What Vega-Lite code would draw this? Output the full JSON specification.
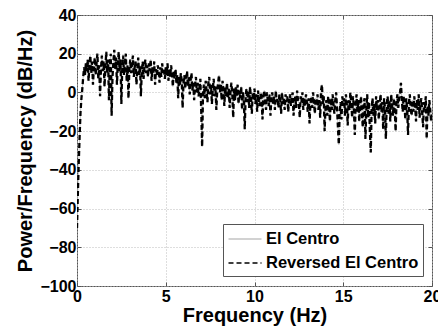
{
  "$schema": "https://vega.github.io/schema/vega-lite/v6.json",
  "autosize": {"type": "none"},
  "width": 355,
  "height": 271,
  "padding": {"left": 77, "top": 15, "right": 6, "bottom": 42},
  "background": "white",
  "config": {
    "view": {"stroke": "#555555", "strokeWidth": 1},
    "font": "Liberation Sans",
    "axis": {
      "labelFont": "Liberation Sans",
      "labelFontWeight": "bold",
      "labelFontSize": 16,
      "labelColor": "#000000",
      "titleFont": "Liberation Sans",
      "titleFontWeight": "bold",
      "titleFontSize": 20,
      "titleColor": "#000000",
      "domain": false,
      "tickColor": "#555555",
      "tickSize": -4,
      "gridColor": "#bdbdbd",
      "gridDash": [1, 2],
      "gridWidth": 1,
      "labelOverlap": false,
      "labelFlush": false
    },
    "legend": {
      "labelFont": "Liberation Sans",
      "labelFontWeight": "bold",
      "labelFontSize": 16.5,
      "labelColor": "#000000",
      "labelLimit": 300
    }
  },
  "resolve": {"axis": {"x": "independent", "y": "independent"}},
  "data": {
    "values": [
      {"f":0.00,"p":-70},{"f":0.05,"p":-52},{"f":0.10,"p":-36},{"f":0.15,"p":-22},{"f":0.20,"p":-10},{"f":0.25,"p":-3},{"f":0.30,"p":2},{"f":0.35,"p":8},{"f":0.40,"p":13},{"f":0.45,"p":9},
      {"f":0.50,"p":15},{"f":0.55,"p":11},{"f":0.60,"p":17},{"f":0.65,"p":6},{"f":0.70,"p":14},{"f":0.75,"p":19},{"f":0.80,"p":10},{"f":0.85,"p":16},{"f":0.90,"p":4},{"f":0.95,"p":13},
      {"f":1.00,"p":18},{"f":1.05,"p":9},{"f":1.10,"p":15},{"f":1.15,"p":20},{"f":1.20,"p":7},{"f":1.25,"p":14},{"f":1.30,"p":-2},{"f":1.35,"p":12},{"f":1.40,"p":19},{"f":1.45,"p":11},
      {"f":1.50,"p":16},{"f":1.55,"p":3},{"f":1.60,"p":13},{"f":1.65,"p":21},{"f":1.70,"p":10},{"f":1.75,"p":17},{"f":1.80,"p":-4},{"f":1.85,"p":14},{"f":1.90,"p":20},{"f":1.95,"p":-12},
      {"f":2.00,"p":8},{"f":2.05,"p":16},{"f":2.10,"p":22},{"f":2.15,"p":12},{"f":2.20,"p":18},{"f":2.25,"p":4},{"f":2.30,"p":15},{"f":2.35,"p":21},{"f":2.40,"p":11},{"f":2.45,"p":17},
      {"f":2.50,"p":-6},{"f":2.55,"p":13},{"f":2.60,"p":19},{"f":2.65,"p":9},{"f":2.70,"p":15},{"f":2.75,"p":20},{"f":2.80,"p":6},{"f":2.85,"p":14},{"f":2.90,"p":-3},{"f":2.95,"p":12},
      {"f":3.00,"p":17},{"f":3.05,"p":10},{"f":3.10,"p":15},{"f":3.15,"p":19},{"f":3.20,"p":8},{"f":3.25,"p":13},{"f":3.30,"p":16},{"f":3.35,"p":4},{"f":3.40,"p":12},{"f":3.45,"p":18},
      {"f":3.50,"p":9},{"f":3.55,"p":14},{"f":3.60,"p":-2},{"f":3.65,"p":11},{"f":3.70,"p":16},{"f":3.75,"p":7},{"f":3.80,"p":13},{"f":3.85,"p":17},{"f":3.90,"p":10},{"f":3.95,"p":14},
      {"f":4.00,"p":8},{"f":4.05,"p":15},{"f":4.10,"p":11},{"f":4.15,"p":17},{"f":4.20,"p":6},{"f":4.25,"p":13},{"f":4.30,"p":10},{"f":4.35,"p":16},{"f":4.40,"p":4},{"f":4.45,"p":12},
      {"f":4.50,"p":9},{"f":4.55,"p":14},{"f":4.60,"p":11},{"f":4.65,"p":5},{"f":4.70,"p":13},{"f":4.75,"p":8},{"f":4.80,"p":15},{"f":4.85,"p":10},{"f":4.90,"p":12},{"f":4.95,"p":7},
      {"f":5.00,"p":13},{"f":5.05,"p":9},{"f":5.10,"p":15},{"f":5.15,"p":6},{"f":5.20,"p":12},{"f":5.25,"p":8},{"f":5.30,"p":14},{"f":5.35,"p":10},{"f":5.40,"p":3},{"f":5.45,"p":11},
      {"f":5.50,"p":7},{"f":5.55,"p":12},{"f":5.60,"p":5},{"f":5.65,"p":9},{"f":5.70,"p":-3},{"f":5.75,"p":8},{"f":5.80,"p":4},{"f":5.85,"p":10},{"f":5.90,"p":6},{"f":5.95,"p":-8},
      {"f":6.00,"p":5},{"f":6.05,"p":9},{"f":6.10,"p":2},{"f":6.15,"p":7},{"f":6.20,"p":11},{"f":6.25,"p":3},{"f":6.30,"p":8},{"f":6.35,"p":-1},{"f":6.40,"p":6},{"f":6.45,"p":10},
      {"f":6.50,"p":1},{"f":6.55,"p":5},{"f":6.60,"p":-4},{"f":6.65,"p":4},{"f":6.70,"p":8},{"f":6.75,"p":0},{"f":6.80,"p":5},{"f":6.85,"p":-2},{"f":6.90,"p":3},{"f":6.95,"p":7},
      {"f":7.00,"p":-10},{"f":7.05,"p":-28},{"f":7.10,"p":0},{"f":7.15,"p":4},{"f":7.20,"p":-3},{"f":7.25,"p":6},{"f":7.30,"p":1},{"f":7.35,"p":-5},{"f":7.40,"p":5},{"f":7.45,"p":8},
      {"f":7.50,"p":-1},{"f":7.55,"p":4},{"f":7.60,"p":-6},{"f":7.65,"p":2},{"f":7.70,"p":7},{"f":7.75,"p":-2},{"f":7.80,"p":3},{"f":7.85,"p":-9},{"f":7.90,"p":1},{"f":7.95,"p":5},
      {"f":8.00,"p":9},{"f":8.05,"p":0},{"f":8.10,"p":4},{"f":8.15,"p":-4},{"f":8.20,"p":6},{"f":8.25,"p":1},{"f":8.30,"p":-7},{"f":8.35,"p":3},{"f":8.40,"p":-2},{"f":8.45,"p":5},
      {"f":8.50,"p":-3},{"f":8.55,"p":2},{"f":8.60,"p":-8},{"f":8.65,"p":1},{"f":8.70,"p":5},{"f":8.75,"p":-1},{"f":8.80,"p":-13},{"f":8.85,"p":2},{"f":8.90,"p":-4},{"f":8.95,"p":3},
      {"f":9.00,"p":-2},{"f":9.05,"p":4},{"f":9.10,"p":-6},{"f":9.15,"p":1},{"f":9.20,"p":-3},{"f":9.25,"p":3},{"f":9.30,"p":-9},{"f":9.35,"p":0},{"f":9.40,"p":-4},{"f":9.45,"p":-19},
      {"f":9.50,"p":-2},{"f":9.55,"p":2},{"f":9.60,"p":-5},{"f":9.65,"p":1},{"f":9.70,"p":-8},{"f":9.75,"p":3},{"f":9.80,"p":-3},{"f":9.85,"p":-11},{"f":9.90,"p":0},{"f":9.95,"p":-4},
      {"f":10.00,"p":2},{"f":10.05,"p":-6},{"f":10.10,"p":-1},{"f":10.15,"p":-10},{"f":10.20,"p":1},{"f":10.25,"p":-4},{"f":10.30,"p":-7},{"f":10.35,"p":0},{"f":10.40,"p":-3},{"f":10.45,"p":-14},
      {"f":10.50,"p":-2},{"f":10.55,"p":1},{"f":10.60,"p":-5},{"f":10.65,"p":-9},{"f":10.70,"p":0},{"f":10.75,"p":-4},{"f":10.80,"p":-7},{"f":10.85,"p":-1},{"f":10.90,"p":-12},{"f":10.95,"p":-3},
      {"f":11.00,"p":0},{"f":11.05,"p":-6},{"f":11.10,"p":-2},{"f":11.15,"p":-9},{"f":11.20,"p":1},{"f":11.25,"p":-5},{"f":11.30,"p":-3},{"f":11.35,"p":-8},{"f":11.40,"p":-1},{"f":11.45,"p":-4},
      {"f":11.50,"p":-11},{"f":11.55,"p":0},{"f":11.60,"p":-6},{"f":11.65,"p":-3},{"f":11.70,"p":-9},{"f":11.75,"p":-1},{"f":11.80,"p":-5},{"f":11.85,"p":-2},{"f":11.90,"p":-10},{"f":11.95,"p":-4},
      {"f":12.00,"p":-1},{"f":12.05,"p":-7},{"f":12.10,"p":-3},{"f":12.15,"p":0},{"f":12.20,"p":-12},{"f":12.25,"p":-5},{"f":12.30,"p":-2},{"f":12.35,"p":-8},{"f":12.40,"p":1},{"f":12.45,"p":-4},
      {"f":12.50,"p":-6},{"f":12.55,"p":-13},{"f":12.60,"p":-2},{"f":12.65,"p":-5},{"f":12.70,"p":0},{"f":12.75,"p":-9},{"f":12.80,"p":-3},{"f":12.85,"p":-7},{"f":12.90,"p":-1},{"f":12.95,"p":-5},
      {"f":13.00,"p":-10},{"f":13.05,"p":-3},{"f":13.10,"p":-16},{"f":13.15,"p":-6},{"f":13.20,"p":-2},{"f":13.25,"p":-8},{"f":13.30,"p":0},{"f":13.35,"p":-5},{"f":13.40,"p":-11},{"f":13.45,"p":-3},
      {"f":13.50,"p":-7},{"f":13.55,"p":-1},{"f":13.60,"p":-9},{"f":13.65,"p":-4},{"f":13.70,"p":-13},{"f":13.75,"p":1},{"f":13.80,"p":4},{"f":13.85,"p":-6},{"f":13.90,"p":-2},{"f":13.95,"p":-20},
      {"f":14.00,"p":-8},{"f":14.05,"p":-4},{"f":14.10,"p":-12},{"f":14.15,"p":-2},{"f":14.20,"p":-7},{"f":14.25,"p":-15},{"f":14.30,"p":-3},{"f":14.35,"p":-9},{"f":14.40,"p":-1},{"f":14.45,"p":-6},
      {"f":14.50,"p":-11},{"f":14.55,"p":-4},{"f":14.60,"p":0},{"f":14.65,"p":-8},{"f":14.70,"p":-18},{"f":14.75,"p":-27},{"f":14.80,"p":-10},{"f":14.85,"p":-5},{"f":14.90,"p":-14},{"f":14.95,"p":-2},
      {"f":15.00,"p":-7},{"f":15.05,"p":-3},{"f":15.10,"p":-12},{"f":15.15,"p":-1},{"f":15.20,"p":-6},{"f":15.25,"p":-17},{"f":15.30,"p":-4},{"f":15.35,"p":-9},{"f":15.40,"p":0},{"f":15.45,"p":-5},
      {"f":15.50,"p":-13},{"f":15.55,"p":-2},{"f":15.60,"p":-8},{"f":15.65,"p":-22},{"f":15.70,"p":-6},{"f":15.75,"p":-1},{"f":15.80,"p":-10},{"f":15.85,"p":-4},{"f":15.90,"p":-15},{"f":15.95,"p":-7},
      {"f":16.00,"p":-2},{"f":16.05,"p":-11},{"f":16.10,"p":-18},{"f":16.15,"p":-6},{"f":16.20,"p":-3},{"f":16.25,"p":-24},{"f":16.30,"p":-9},{"f":16.35,"p":-1},{"f":16.40,"p":-13},{"f":16.45,"p":-5},
      {"f":16.50,"p":-20},{"f":16.55,"p":-31},{"f":16.60,"p":-8},{"f":16.65,"p":-3},{"f":16.70,"p":-12},{"f":16.75,"p":-6},{"f":16.80,"p":-16},{"f":16.85,"p":-2},{"f":16.90,"p":-9},{"f":16.95,"p":-4},
      {"f":17.00,"p":-14},{"f":17.05,"p":-7},{"f":17.10,"p":-1},{"f":17.15,"p":-10},{"f":17.20,"p":-5},{"f":17.25,"p":-19},{"f":17.30,"p":-3},{"f":17.35,"p":-8},{"f":17.40,"p":-24},{"f":17.45,"p":-6},
      {"f":17.50,"p":-2},{"f":17.55,"p":-11},{"f":17.60,"p":-4},{"f":17.65,"p":-15},{"f":17.70,"p":-1},{"f":17.75,"p":-7},{"f":17.80,"p":-12},{"f":17.85,"p":-3},{"f":17.90,"p":-9},{"f":17.95,"p":-20},
      {"f":18.00,"p":-5},{"f":18.05,"p":-1},{"f":18.10,"p":-8},{"f":18.15,"p":-3},{"f":18.20,"p":0},{"f":18.25,"p":5},{"f":18.30,"p":-4},{"f":18.35,"p":-10},{"f":18.40,"p":-2},{"f":18.45,"p":-7},
      {"f":18.50,"p":-14},{"f":18.55,"p":-3},{"f":18.60,"p":-9},{"f":18.65,"p":-22},{"f":18.70,"p":-5},{"f":18.75,"p":-1},{"f":18.80,"p":-8},{"f":18.85,"p":-12},{"f":18.90,"p":-4},{"f":18.95,"p":-10},
      {"f":19.00,"p":-2},{"f":19.05,"p":-7},{"f":19.10,"p":-15},{"f":19.15,"p":-4},{"f":19.20,"p":-9},{"f":19.25,"p":-1},{"f":19.30,"p":-13},{"f":19.35,"p":-6},{"f":19.40,"p":-3},{"f":19.45,"p":-11},
      {"f":19.50,"p":-18},{"f":19.55,"p":-5},{"f":19.60,"p":-8},{"f":19.65,"p":-2},{"f":19.70,"p":-24},{"f":19.75,"p":-7},{"f":19.80,"p":-12},{"f":19.85,"p":-4},{"f":19.90,"p":-9},{"f":19.95,"p":-15},
      {"f":20.00,"p":-10}
    ]
  },
  "layer": [
    {
      "mark": {"type": "line", "strokeWidth": 1, "clip": true},
      "encoding": {
        "x": {
          "field": "f", "type": "quantitative",
          "scale": {"domain": [0, 20], "nice": false, "zero": false},
          "axis": {"orient": "bottom", "title": "Frequency (Hz)", "values": [0, 5, 10, 15, 20], "labelPadding": 6, "titlePadding": 1}
        },
        "y": {
          "field": "p", "type": "quantitative",
          "scale": {"domain": [-100, 40], "nice": false, "zero": false},
          "axis": {"orient": "left", "title": "Power/Frequency (dB/Hz)", "values": [-100, -80, -60, -40, -20, 0, 20, 40], "labelPadding": 5, "titlePadding": 4}
        },
        "color": {
          "datum": "El Centro", "type": "nominal",
          "scale": {"domain": ["El Centro", "Reversed El Centro"], "range": ["#c4c4c4", "#000000"]},
          "legend": {
            "title": null, "orient": "none", "legendX": 146, "legendY": 209,
            "strokeColor": "#555555", "fillColor": "white", "padding": 4,
            "symbolType": "M-1.65,0H1.65", "symbolSize": 400, "symbolStrokeWidth": 1.6,
            "symbolOffset": 7, "labelOffset": 10, "rowPadding": 4
          }
        },
        "strokeDash": {
          "datum": "El Centro", "type": "nominal",
          "scale": {"domain": ["El Centro", "Reversed El Centro"], "range": [[1, 0], [5, 3]]},
          "legend": {
            "title": null, "orient": "none", "legendX": 146, "legendY": 209,
            "strokeColor": "#555555", "fillColor": "white", "padding": 4,
            "symbolType": "M-1.65,0H1.65", "symbolSize": 400, "symbolStrokeWidth": 1.6,
            "symbolOffset": 7, "labelOffset": 10, "rowPadding": 4
          }
        }
      }
    },
    {
      "mark": {"type": "line", "strokeWidth": 2.3, "clip": true},
      "encoding": {
        "x": {"field": "f", "type": "quantitative", "axis": null},
        "y": {"field": "p", "type": "quantitative", "axis": null},
        "color": {"datum": "Reversed El Centro", "type": "nominal"},
        "strokeDash": {"datum": "Reversed El Centro", "type": "nominal"}
      }
    },
    {
      "mark": {"type": "point", "opacity": 0},
      "encoding": {
        "x": {"field": "f", "type": "quantitative", "axis": {"orient": "top", "labels": false, "grid": false, "title": null, "values": [0, 5, 10, 15, 20]}},
        "y": {"field": "p", "type": "quantitative", "axis": {"orient": "right", "labels": false, "grid": false, "title": null, "values": [-100, -80, -60, -40, -20, 0, 20, 40]}}
      }
    }
  ]
}
